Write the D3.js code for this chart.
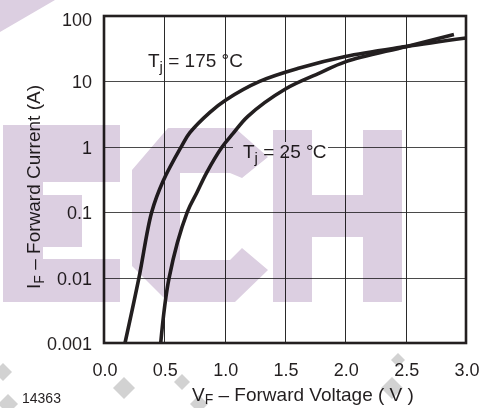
<!DOCTYPE html>
<html lang="en">
<head>
    <meta charset="UTF-8">
    <title>Forward current vs forward voltage</title>
    <script src="https://cdn.jsdelivr.net/npm/d3@7/dist/d3.min.js"></script>
    <style>
        body {
            margin: 0;
            background: #fff;
        }

        text {
            font-family: "Liberation Sans", Arial, Helvetica, sans-serif;
            fill: #231f20;
        }

        .tick-label {
            font-size: 18px;
        }

        .title {
            font-size: 19px;
        }

        .curve-label {
            font-size: 19px;
        }

        .fig-no {
            font-size: 14px;
        }

        .grid line {
            stroke: #2a2a2a;
            stroke-width: 1px;
        }

        .curve {
            fill: none;
            stroke: #231f20;
            stroke-width: 3.6px;
            stroke-linejoin: round;
        }

        .wm {
            mix-blend-mode: multiply;
        }
    </style>
</head>
<body>
<script>
    //axis ticks
    const xTicks = [0.0, 0.5, 1.0, 1.5, 2.0, 2.5, 3.0];
    const yTicks = [0.001, 0.01, 0.1, 1, 10, 100];
    const yTickText = ['0.001', '0.01', '0.1', '1', '10', '100'];

    //Tj = 175 °C curve
    const vf175 = [0.174, 0.29, 0.395, 0.49, 0.64, 0.71, 0.88, 1.01, 1.29, 1.62, 2.0, 2.5, 3.0];
    const if175 = [0.001, 0.01, 0.1, 0.3, 1, 1.63, 3.4, 5.2, 10, 16, 24, 34, 46];

    //Tj = 25 °C curve
    const vf25 = [0.47, 0.54, 0.69, 0.77, 0.85, 0.98, 1.07, 1.19, 1.5, 1.79, 2.0, 2.5, 2.9];
    const if25 = [0.001, 0.01, 0.1, 0.2, 0.4, 1, 1.6, 2.9, 7.6, 13.5, 19.9, 34, 52];

    const width = 482;
    const height = 408;

    //plot box
    const pLeft = 104, pRight = 466, pTop = 16, pBottom = 343;

    const x = d3.scaleLinear().domain([0, 3]).range([pLeft, pRight]);
    const y = d3.scaleLog().domain([0.001, 100]).range([pBottom, pTop]);

    const svg = d3.select("body").append("svg")
        .attr("width", width)
        .attr("height", height);

    svg.append("rect").attr("width", width).attr("height", height).attr("fill", "#fff");

    //horizontal grid first, the 25 °C label hides part of the 1 A line
    const grid = svg.append("g").attr("class", "grid");
    grid.selectAll("line.h")
        .data(yTicks.slice(1, -1))
        .enter()
        .append("line")
        .attr("class", "h")
        .attr("x1", pLeft).attr("x2", pRight)
        .attr("y1", d => Math.round(y(d)) + 0.5)
        .attr("y2", d => Math.round(y(d)) + 0.5)
        .style("stroke", "#4a4a4a");

    //white patch behind the label
    svg.append("rect")
        .attr("x", 233).attr("y", 142)
        .attr("width", 95).attr("height", 12)
        .attr("fill", "#fff");

    grid.selectAll("line.v")
        .data(xTicks.slice(1, -1))
        .enter()
        .append("line")
        .attr("class", "v")
        .attr("y1", pTop).attr("y2", pBottom)
        .attr("x1", d => Math.round(x(d)) + 0.5)
        .attr("x2", d => Math.round(x(d)) + 0.5);

    //curves
    const line = d3.line()
        .x(d => x(d[0]))
        .y(d => y(d[1]))
        .curve(d3.curveCatmullRom.alpha(0.5));

    const chart = svg.append("g").attr("class", "curves");
    chart.append("path")
        .attr("class", "curve")
        .attr("d", line(d3.zip(vf175, if175)));
    chart.append("path")
        .attr("class", "curve")
        .attr("d", line(d3.zip(vf25, if25)));

    //frame
    svg.append("rect")
        .attr("x", pLeft).attr("y", pTop)
        .attr("width", pRight - pLeft).attr("height", pBottom - pTop)
        .attr("fill", "none")
        .attr("stroke", "#231f20")
        .attr("stroke-width", 2.6);

    //tick labels (top one kept inside, as in the original)
    svg.append("g").selectAll("text")
        .data(yTicks)
        .enter()
        .append("text")
        .attr("class", "tick-label")
        .attr("x", pLeft - 12)
        .attr("y", d => Math.max(y(d) + 7, pTop + 10))
        .attr("text-anchor", "end")
        .text((d, i) => yTickText[i]);

    svg.append("g").selectAll("text")
        .data(xTicks)
        .enter()
        .append("text")
        .attr("class", "tick-label")
        .attr("x", d => x(d) + 1)
        .attr("y", pBottom + 33)
        .attr("text-anchor", "middle")
        .text(d => d.toFixed(1));

    //axis titles
    const xt = svg.append("text")
        .attr("class", "title")
        .attr("x", 192)
        .attr("y", 401);
    xt.append("tspan").text("V");
    xt.append("tspan").attr("dy", 3).style("font-size", "14px").text("F");
    xt.append("tspan").attr("dy", -3).text(" \u2013 Forward Voltage ( V )");

    const yt = svg.append("text")
        .attr("class", "title")
        .attr("transform", "translate(40,187) rotate(-90)")
        .attr("text-anchor", "middle");
    yt.append("tspan").text("I");
    yt.append("tspan").attr("dy", 4).style("font-size", "14px").text("F");
    yt.append("tspan").attr("dy", -4).text(" \u2013 Forward Current (A)");

    //curve labels
    const l175 = svg.append("text").attr("class", "curve-label").attr("x", 148).attr("y", 67);
    l175.append("tspan").text("T");
    l175.append("tspan").attr("dy", 5).style("font-size", "15px").text("j");
    l175.append("tspan").attr("dy", -5).text(" = 175 \u00b0C");

    const l25 = svg.append("text").attr("class", "curve-label").attr("x", 243).attr("y", 158);
    l25.append("tspan").text("T");
    l25.append("tspan").attr("dy", 5).style("font-size", "15px").text("j");
    l25.append("tspan").attr("dy", -5).text(" = 25 \u00b0");
    l25.append("tspan").attr("dx", -1).text("C");

    svg.append("text").attr("class", "fig-no").attr("x", 22).attr("y", 403).text("14363");

    //watermark laid over everything
    const wm = svg.append("g").attr("class", "wm");
    const wmFill = "#dccfe1";
    wm.append("polygon").attr("fill", wmFill).attr("points", "0,0 55,0 0,32");
    //E
    wm.append("polygon").attr("fill", wmFill)
        .attr("points", "3,125 120,125 120,182 43,182 43,195 82,195 82,247 43,247 43,259 120,259 120,302 3,302");
    //C
    wm.append("polygon").attr("fill", wmFill)
        .attr("points", "168,128 235,128 268,157 242,178 230,173 180,173 180,260 230,260 242,248 268,270 235,302 168,302 132,266 132,170");
    //H
    wm.append("polygon").attr("fill", wmFill)
        .attr("points", "273,130 312,130 312,195 363,195 363,130 402,130 402,302 363,302 363,237 312,237 312,302 273,302");

    //grey diamonds along the bottom
    const diamonds = [[3, 372, 9], [8, 404, 10], [124, 388, 11], [182, 382, 8], [199, 404, 9], [392, 388, 11], [398, 360, 7]];
    wm.selectAll("path.dia")
        .data(diamonds)
        .enter()
        .append("path")
        .attr("class", "dia")
        .attr("fill", "#d2d2d2")
        .attr("d", d => `M${d[0]},${d[1] - d[2]}L${d[0] + d[2]},${d[1]}L${d[0]},${d[1] + d[2]}L${d[0] - d[2]},${d[1]}Z`);
</script>
</body>
</html>
